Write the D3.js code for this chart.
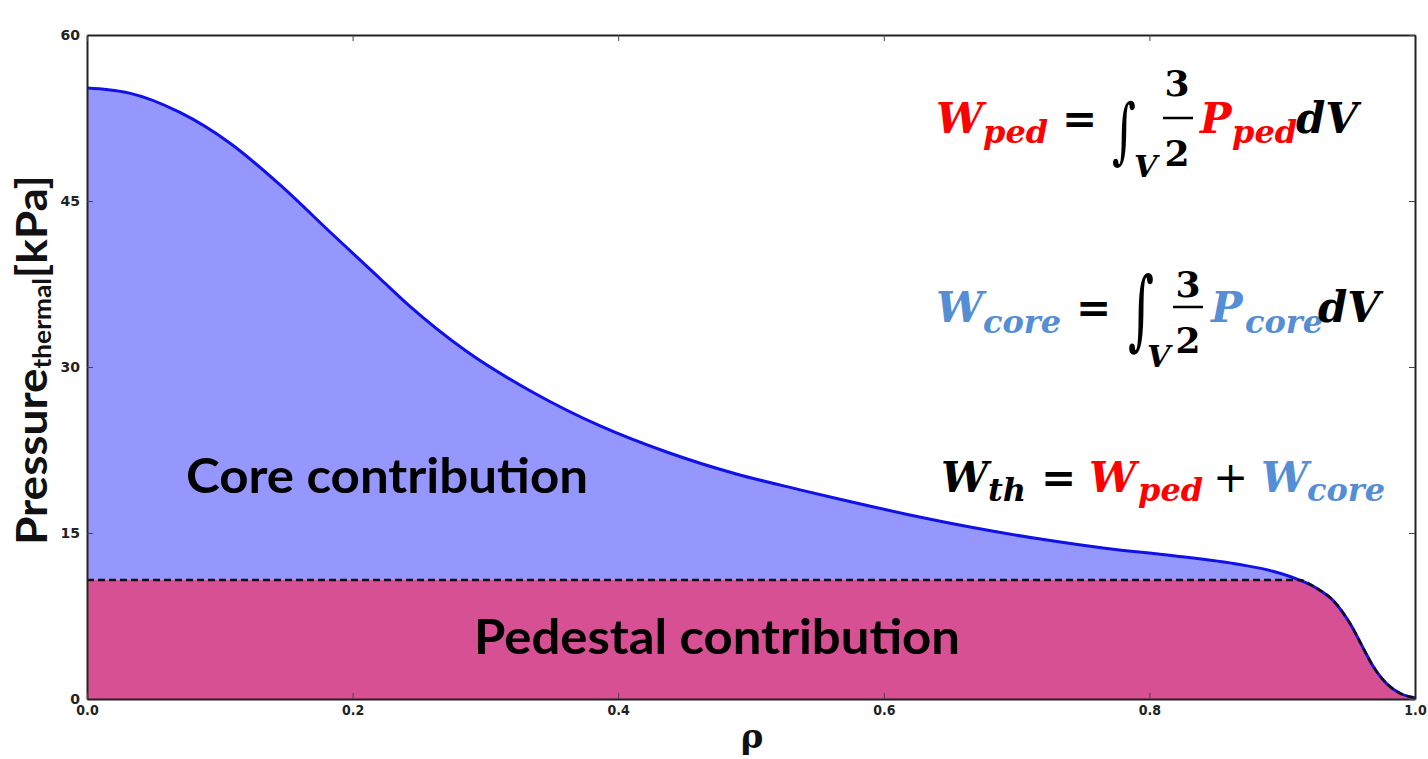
<!DOCTYPE html>
<html>
<head>
<meta charset="utf-8">
<script src="https://cdn.jsdelivr.net/npm/d3@7"></script>
<style>
  body { margin: 0; background: #fff; }
</style>
</head>
<body>
<script>
// normalised radius and the two pressure profiles [kPa]
const rho = [0, 0.016, 0.032, 0.07, 0.108, 0.145, 0.183, 0.221, 0.243, 0.286, 0.336, 0.386, 0.437, 0.487,
  0.537, 0.567, 0.617, 0.667, 0.718, 0.768, 0.818, 0.868, 0.893, 0.913, 0.926, 0.938, 0.951,
  0.961, 0.968, 0.979, 0.989, 1.0];
const pTotal = [55.2, 55.05, 54.75, 53.0, 50.2, 46.5, 42.2, 37.95, 35.5, 31.4, 27.7, 24.7, 22.3, 20.4,
  18.9, 18.05, 16.7, 15.5, 14.45, 13.6, 12.95, 12.15, 11.55, 10.75, 10.0, 8.95, 6.84,
  4.6, 3.05, 1.35, 0.5, 0.12];
const pPed = [10.75, 10.75, 10.75, 10.75, 10.75, 10.75, 10.75, 10.75, 10.75, 10.75, 10.75, 10.75, 10.75, 10.75,
  10.75, 10.75, 10.75, 10.75, 10.75, 10.75, 10.75, 10.75, 10.75, 10.75, 10.0, 8.95, 6.84,
  4.6, 3.05, 1.35, 0.5, 0.12];

const xTicks = [0, 0.2, 0.4, 0.6, 0.8, 1.0];
const yTicks = [0, 15, 30, 45, 60];

const width = 1428;
const height = 759;

const svg = d3.select("body").append("svg")
    .attr("width", width)
    .attr("height", height);

const x = d3.scaleLinear().domain([0, 1]).range([87, 1415]);
const y = d3.scaleLinear().domain([0, 60]).range([699, 35]);

const pts = rho.map((r, i) => ({ r: r, tot: pTotal[i], ped: pPed[i] }));

// filled regions
const pedArea = d3.area()
    .x(d => x(d.r))
    .y0(y(0))
    .y1(d => y(d.ped))
    .curve(d3.curveMonotoneX);

const coreArea = d3.area()
    .x(d => x(d.r))
    .y0(d => y(d.ped))
    .y1(d => y(d.tot))
    .curve(d3.curveMonotoneX);

svg.append("path").attr("d", coreArea(pts)).attr("fill", "#9597fc");
svg.append("path").attr("d", pedArea(pts)).attr("fill", "#d75093");

const totLine = d3.line().x(d => x(d.r)).y(d => y(d.tot)).curve(d3.curveMonotoneX);
const pedLine = d3.line().x(d => x(d.r)).y(d => y(d.ped)).curve(d3.curveMonotoneX);

svg.append("path").attr("d", totLine(pts))
    .attr("fill", "none").attr("stroke", "#1010e8").attr("stroke-width", 3);
svg.append("path").attr("d", pedLine(pts))
    .attr("fill", "none").attr("stroke", "#111").attr("stroke-width", 2.5)
    .attr("stroke-dasharray", "7,4");

// axes, matplotlib style: ticks pointing in on all four sides
const axL = svg.append("g").attr("transform", "translate(87,0)")
    .call(d3.axisLeft(y).tickValues(yTicks).tickSize(-6).tickSizeOuter(0).tickPadding(7));
const axB = svg.append("g").attr("transform", "translate(0,699)")
    .call(d3.axisBottom(x).tickValues(xTicks).tickSize(-6).tickSizeOuter(0).tickPadding(6)
        .tickFormat(d3.format(".1f")));
const axT = svg.append("g").attr("transform", "translate(0,35)")
    .call(d3.axisTop(x).tickValues(xTicks).tickSize(-6).tickSizeOuter(0).tickFormat(""));
const axR = svg.append("g").attr("transform", "translate(1415,0)")
    .call(d3.axisRight(y).tickValues(yTicks).tickSize(-6).tickSizeOuter(0).tickFormat(""));

[axL, axB, axT, axR].forEach(a => {
    a.select(".domain").attr("stroke", "#222").attr("stroke-width", 2);
    a.selectAll(".tick line").attr("stroke", "#444").attr("stroke-width", 1);
});
axL.selectAll("text").attr("font-family", "DejaVu Sans").attr("font-weight", "bold")
    .attr("font-size", 14).attr("fill", "#222");
axB.selectAll("text").attr("font-family", "DejaVu Sans Condensed").attr("font-weight", "bold")
    .attr("font-size", 14).attr("fill", "#222");

// axis titles
const yl = svg.append("text")
    .attr("transform", "translate(47,545) rotate(-90)")
    .attr("textLength", 370).attr("lengthAdjust", "spacingAndGlyphs")
    .attr("font-family", "Lato").attr("font-weight", "bold").attr("fill", "#111");
yl.append("tspan").attr("font-size", 42).text("Pressure");
yl.append("tspan").attr("font-size", 24).attr("dy", 4).text("thermal");
yl.append("tspan").attr("font-size", 42).attr("dy", -4).text("[kPa]");

svg.append("text")
    .attr("x", 752).attr("y", 748)
    .attr("text-anchor", "middle")
    .attr("font-family", "DejaVu Serif").attr("font-weight", "bold")
    .attr("font-size", 34).attr("fill", "#111")
    .text("ρ");

// region labels
svg.append("text").attr("x", 186).attr("y", 493)
    .attr("textLength", 402).attr("lengthAdjust", "spacingAndGlyphs")
    .attr("font-family", "Lato").attr("font-weight", "bold").attr("font-size", 48)
    .attr("fill", "#000").text("Core contribution");
svg.append("text").attr("x", 474).attr("y", 654)
    .attr("textLength", 486).attr("lengthAdjust", "spacingAndGlyphs")
    .attr("font-family", "Lato").attr("font-weight", "bold").attr("font-size", 48)
    .attr("fill", "#000").text("Pedestal contribution");

// equations
const red = "#ff0000";
const blue = "#558ed5";

function piece(p) {
    svg.append("text")
        .attr("x", p.x).attr("y", p.y)
        .attr("text-anchor", p.a || "start")
        .attr("font-family", "DejaVu Serif")
        .attr("font-weight", p.w || "bold")
        .attr("font-style", p.i === false ? "normal" : "italic")
        .attr("font-size", p.s)
        .attr("fill", p.c)
        .text(p.t);
}

// squeeze a glyph into a given box
function fitGlyph(t, x0, y0, x1, y1) {
    const g = svg.append("text")
        .attr("font-family", "DejaVu Serif").attr("font-size", 100)
        .attr("font-style", "italic").attr("fill", "#000").text(t);
    const bb = g.node().getBBox();
    const sx = (x1 - x0) / bb.width, sy = (y1 - y0) / bb.height;
    g.attr("transform", `translate(${x0 - bb.x * sx},${y0 - bb.y * sy}) scale(${sx},${sy})`);
}

const eqPed = [
    { t: "W", x: 936, y: 133, s: 42, c: red },
    { t: "ped", x: 983, y: 143, s: 32, c: red },
    { t: "=", x: 1062, y: 133, s: 42, c: "#000", i: false },
    { t: "V", x: 1134, y: 177, s: 30, c: "#000" },
    { t: "3", x: 1177, y: 96, s: 36, c: "#000", i: false, a: "middle" },
    { t: "2", x: 1177, y: 166, s: 36, c: "#000", i: false, a: "middle" },
    { t: "P", x: 1200, y: 133, s: 42, c: red },
    { t: "ped", x: 1232, y: 143, s: 32, c: red },
    { t: "dV", x: 1296, y: 133, s: 42, c: "#000" }
];
const eqCore = [
    { t: "W", x: 936, y: 322, s: 42, c: blue },
    { t: "core", x: 983, y: 333, s: 32, c: blue },
    { t: "=", x: 1076, y: 322, s: 42, c: "#000", i: false },
    { t: "V", x: 1147, y: 367, s: 30, c: "#000" },
    { t: "3", x: 1188, y: 297, s: 36, c: "#000", i: false, a: "middle" },
    { t: "2", x: 1188, y: 353, s: 36, c: "#000", i: false, a: "middle" },
    { t: "P", x: 1211, y: 322, s: 42, c: blue },
    { t: "core", x: 1245, y: 333, s: 32, c: blue },
    { t: "dV", x: 1318, y: 322, s: 42, c: "#000" }
];
const eqTh = [
    { t: "W", x: 941, y: 492, s: 42, c: "#000" },
    { t: "th", x: 988, y: 501, s: 32, c: "#000" },
    { t: "=", x: 1041, y: 492, s: 42, c: "#000", i: false },
    { t: "W", x: 1089, y: 492, s: 42, c: red },
    { t: "ped", x: 1138, y: 501, s: 32, c: red },
    { t: "+", x: 1213, y: 492, s: 42, c: "#000", w: "normal", i: false },
    { t: "W", x: 1261, y: 492, s: 42, c: blue },
    { t: "core", x: 1307, y: 501, s: 32, c: blue }
];
eqPed.concat(eqCore, eqTh).forEach(piece);

fitGlyph("∫", 1112, 88, 1136, 172);
fitGlyph("∫", 1128, 258, 1154, 360);

svg.append("line").attr("x1", 1163).attr("x2", 1193).attr("y1", 118).attr("y2", 118)
    .attr("stroke", "#000").attr("stroke-width", 2.5);
svg.append("line").attr("x1", 1173).attr("x2", 1203).attr("y1", 307).attr("y2", 307)
    .attr("stroke", "#000").attr("stroke-width", 2.5);
</script>
</body>
</html>
